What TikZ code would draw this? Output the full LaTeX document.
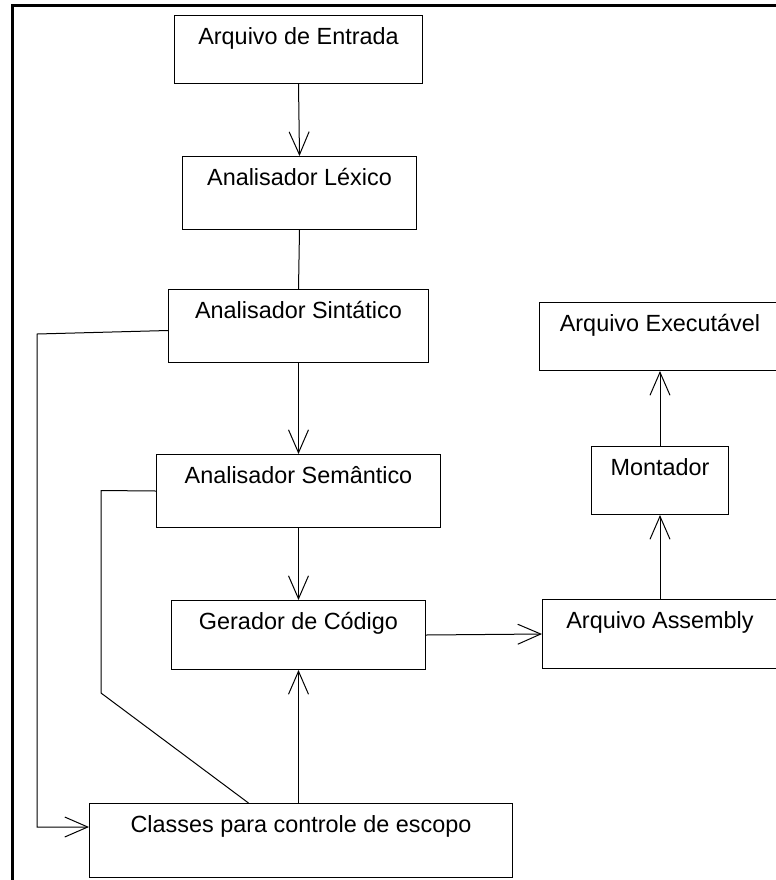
\documentclass[tikz,border=0pt]{standalone}
\usepackage{fontspec}
\setmainfont{Liberation Sans}
\usetikzlibrary{arrows.meta}
\begin{document}
\begin{tikzpicture}[x=0.5pt, y=-0.5pt, line width=0.5pt,
  box/.style={draw, anchor=north west, inner sep=0pt, text height=14.5pt,
    font=\fontsize{11.7}{14}\selectfont},
  arr/.style={-{Straight Barb[length=11.5pt, width=10pt]}}]
  \useasboundingbox (0,0) rectangle (776,880);
  \draw[line width=1.5pt] (12,880) -- (12,5.5) -- (776,5.5);
  \node[box, minimum width=124pt, text depth=19.5pt] (entrada) at (174,15) {Arquivo de Entrada};
  \node[box, minimum width=117pt, text depth=22pt] (lexico) at (182,156) {Analisador Léxico};
  \node[box, minimum width=130pt, text depth=22pt] (sintatico) at (168,289) {Analisador Sintático};
  \node[box, minimum width=142pt, text depth=22pt] (semantico) at (156,454) {Analisador Semântico};
  \node[box, minimum width=127pt, text depth=20pt] (gerador) at (171,600) {Gerador de Código};
  \node[box, minimum width=211.5pt, text depth=22.5pt] (classes) at (89,803) {Classes para controle de escopo};
  \node[box, minimum width=117.5pt, text depth=20pt] (assembly) at (542,599) {Arquivo Assembly};
  \node[box, minimum width=68.5pt, text depth=19.5pt] (montador) at (591,446) {Montador};
  \node[box, minimum width=120.5pt, text depth=19.5pt] (executavel) at (539,302) {Arquivo Executável};
  \coordinate (s1) at (37,334);
  \coordinate (s2) at (37,827);
  \coordinate (t1) at (101,490.5);
  \coordinate (t2) at (101,693);
  \draw[arr] (entrada.south) -- (lexico.north);
  \draw (lexico.south) -- (sintatico.north);
  \draw[arr] (sintatico.south) -- (semantico.north);
  \draw[arr] (semantico.south) -- (gerador.north);
  \draw[arr] (gerador.east) -- (assembly.west);
  \draw[arr] (assembly.north) -- (montador.south);
  \draw[arr] (montador.north) -- (executavel.south);
  \draw[arr] (classes.north -| gerador.south) -- (gerador.south);
  \draw[arr] ([yshift=-2.25pt]sintatico.west) -- (s1) -- (s2) -- (classes.west |- s2);
  \draw (semantico.west) -- (t1) -- (t2) -- ([xshift=-26.25pt]classes.north);
\end{tikzpicture}
\end{document}
